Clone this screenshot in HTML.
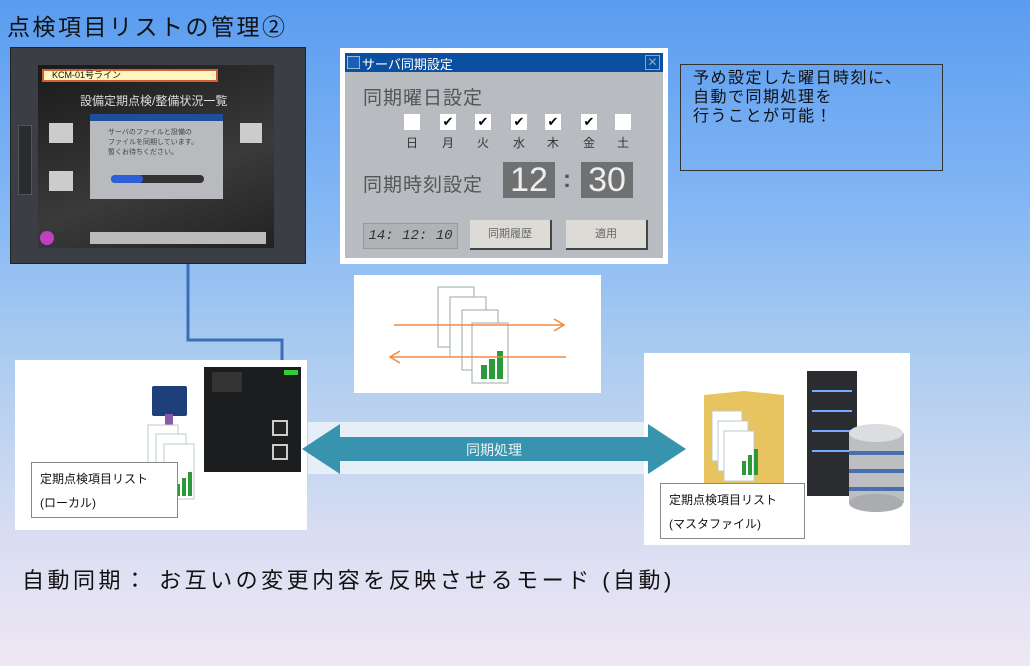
<!DOCTYPE html>
<html><head><meta charset="utf-8"><style>
*{margin:0;padding:0;box-sizing:border-box}
body{width:1030px;height:666px;overflow:hidden;position:relative;font-family:"Liberation Sans","Noto Sans CJK JP",sans-serif;
background:linear-gradient(180deg,#5a9cf0 0%,#82b6f4 30%,#aecdf0 55%,#d8ddf2 80%,#efe7f5 100%)}
.a{position:absolute}
.jp{font-family:"Liberation Sans","Noto Sans CJK JP",sans-serif}
.cb{position:absolute;top:114px;width:16px;height:16px;background:#fff;font-size:13px;line-height:16px;text-align:center}
.dl{position:absolute;top:134px;width:16px;text-align:center;font-size:12px;color:#333}
</style></head><body>
<div class="a jp" style="left:7px;top:8px;font-size:23px;letter-spacing:2.5px;color:#111">点検項目リストの管理②</div>

<!-- HMI -->
<div class="a" style="left:10px;top:47px;width:296px;height:217px;background:#3b3e45;border:1px solid #222"></div>
<div class="a" style="left:18px;top:125px;width:14px;height:70px;background:#2a2c30;border:1px solid #555"></div>
<div class="a" style="left:38px;top:65px;width:236px;height:183px;background:linear-gradient(160deg,#1a1a1a,#3a3a3a 60%,#222)"></div>
<div class="a jp" style="left:42px;top:69px;width:176px;height:13px;background:#fff6c0;border:2px solid #d06030;font-size:9px;line-height:9px;color:#111;padding-left:8px">KCM-01号ライン</div>
<div class="a jp" style="left:80px;top:92px;font-size:12px;color:#ddd">設備定期点検/整備状況一覧</div>
<div class="a" style="left:90px;top:114px;width:133px;height:85px;background:#b8babd;border-top:7px solid #1d4f9a"></div>
<div class="a jp" style="left:108px;top:128px;font-size:7px;line-height:10px;color:#444">サーバのファイルと設備の<br>ファイルを同期しています。<br>暫くお待ちください。</div>
<div class="a" style="left:111px;top:175px;width:93px;height:8px;background:#333;border-radius:4px"></div>
<div class="a" style="left:111px;top:175px;width:32px;height:8px;background:#2d5fd8;border-radius:4px"></div>
<div class="a" style="left:90px;top:232px;width:176px;height:12px;background:#bbb"></div>
<div class="a" style="left:40px;top:231px;width:14px;height:14px;border-radius:7px;background:#c040c0"></div>
<div class="a" style="left:49px;top:123px;width:24px;height:20px;background:#ccc"></div>
<div class="a" style="left:49px;top:171px;width:24px;height:20px;background:#ccc"></div>
<div class="a" style="left:240px;top:123px;width:22px;height:20px;background:#ccc"></div>

<svg class="a" style="left:0;top:0" width="1030" height="666">
<polyline points="188,264 188,340 282,340 282,430" fill="none" stroke="#3a6fb8" stroke-width="3"/>
</svg>

<!-- dialog -->
<div class="a" style="left:340px;top:48px;width:328px;height:216px;background:#fff"></div>
<div class="a" style="left:345px;top:53px;width:318px;height:205px;background:#b8bbbf"></div>
<div class="a" style="left:345px;top:53px;width:318px;height:19px;background:#0b4fa0"></div>
<div class="a" style="left:347px;top:56px;width:13px;height:13px;background:#1a5fb8;border:1px solid #9bc"></div>
<div class="a jp" style="left:362px;top:54px;font-size:13px;color:#fff">サーバ同期設定</div>
<div class="a" style="left:645px;top:55px;width:15px;height:15px;border:1px solid #8ab;color:#8ab;font-size:12px;line-height:13px;text-align:center">✕</div>
<div class="a jp" style="left:363px;top:83px;font-size:19px;letter-spacing:1px;color:#555">同期曜日設定</div>
<div class="a jp" style="left:363px;top:170px;font-size:19px;letter-spacing:1px;color:#555">同期時刻設定</div>
<div class="cb" style="left:404px"></div>
<div class="cb" style="left:440px">✔</div>
<div class="cb" style="left:475px">✔</div>
<div class="cb" style="left:511px">✔</div>
<div class="cb" style="left:545px">✔</div>
<div class="cb" style="left:581px">✔</div>
<div class="cb" style="left:615px"></div>
<div class="dl jp" style="left:404px">日</div>
<div class="dl jp" style="left:440px">月</div>
<div class="dl jp" style="left:475px">火</div>
<div class="dl jp" style="left:511px">水</div>
<div class="dl jp" style="left:545px">木</div>
<div class="dl jp" style="left:581px">金</div>
<div class="dl jp" style="left:615px">土</div>
<div class="a" style="left:503px;top:162px;width:52px;height:36px;background:#6e7072;color:#eee;font-size:34px;line-height:36px;text-align:center">12</div>
<div class="a" style="left:581px;top:162px;width:52px;height:36px;background:#6e7072;color:#eee;font-size:34px;line-height:36px;text-align:center">30</div>
<div class="a" style="left:563px;top:166px;font-size:24px;color:#555;font-weight:bold">:</div>
<div class="a" style="left:363px;top:223px;width:95px;height:26px;border:1px solid #999;background:#b0b3b6;font-style:italic;font-size:14px;line-height:24px;text-align:center;color:#333;font-family:'Liberation Mono',monospace">14: 12: 10</div>
<div class="a jp" style="left:470px;top:220px;width:82px;height:30px;background:#dddbd5;border-right:2px solid #444;border-bottom:2px solid #444;font-size:11px;line-height:28px;text-align:center;color:#666">同期履歴</div>
<div class="a jp" style="left:566px;top:220px;width:82px;height:30px;background:#dddbd5;border-right:2px solid #444;border-bottom:2px solid #444;font-size:11px;line-height:28px;text-align:center;color:#666">適用</div>

<div class="a jp" style="left:680px;top:64px;width:263px;height:107px;border:1px solid #333;padding:4px 12px;font-size:16px;letter-spacing:1.5px;line-height:19px;color:#111">予め設定した曜日時刻に、<br>自動で同期処理を<br>行うことが可能！</div>

<!-- middle box -->
<div class="a" style="left:354px;top:275px;width:247px;height:118px;background:#fff"></div>
<svg class="a" style="left:354px;top:275px" width="247" height="118">
<g fill="#fff" stroke="#9aa" stroke-width="1">
<rect x="84" y="12" width="36" height="60"/><rect x="96" y="22" width="36" height="60"/><rect x="108" y="35" width="36" height="60"/><rect x="118" y="48" width="36" height="60"/></g>
<g fill="#2a9a3a"><rect x="127" y="90" width="6" height="14"/><rect x="135" y="84" width="6" height="20"/><rect x="143" y="76" width="6" height="28"/></g>
<g stroke="#f08a40" stroke-width="1.5" fill="none"><line x1="40" y1="50" x2="210" y2="50"/><polyline points="200,44 210,50 200,56"/><line x1="36" y1="82" x2="212" y2="82"/><polyline points="46,76 36,82 46,88"/></g>
</svg>

<!-- left box -->
<div class="a" style="left:15px;top:360px;width:292px;height:170px;background:#fff"></div>
<div class="a" style="left:152px;top:386px;width:35px;height:30px;background:#1f3f7a;border-radius:2px"></div>
<div class="a" style="left:165px;top:414px;width:8px;height:24px;background:#8a5aa8"></div>
<svg class="a" style="left:140px;top:420px" width="60" height="82"><g fill="#fff" stroke="#bcc"><rect x="8" y="5" width="30" height="50"/><rect x="16" y="14" width="30" height="50"/><rect x="24" y="24" width="30" height="55"/></g><g fill="#2a9a3a"><rect x="36" y="64" width="4" height="12"/><rect x="42" y="58" width="4" height="18"/><rect x="48" y="52" width="4" height="24"/></g></svg>
<div class="a" style="left:204px;top:367px;width:97px;height:105px;background:#1c1d1f"></div>
<div class="a" style="left:212px;top:372px;width:30px;height:20px;background:#333"></div>
<div class="a" style="left:272px;top:420px;width:16px;height:16px;border:2px solid #ccc;background:#222"></div>
<div class="a" style="left:272px;top:444px;width:16px;height:16px;border:2px solid #ccc;background:#222"></div>
<div class="a" style="left:284px;top:370px;width:14px;height:5px;background:#3c3"></div>
<div class="a jp" style="left:31px;top:462px;width:147px;height:56px;background:#fff;border:1px solid #888;padding:4px 8px;font-size:12px;line-height:24px;color:#111">定期点検項目リスト<br>(ローカル)</div>

<!-- right box -->
<div class="a" style="left:644px;top:353px;width:266px;height:192px;background:#fff"></div>
<svg class="a" style="left:644px;top:353px" width="266" height="192">
<path d="M60,42 L100,38 L140,42 L140,130 L90,140 L60,130Z" fill="#e8c460"/>
<g fill="#fff" stroke="#bcc"><rect x="68" y="58" width="30" height="50"/><rect x="74" y="68" width="30" height="50"/><rect x="80" y="78" width="30" height="50"/></g>
<g fill="#2a9a3a"><rect x="98" y="108" width="4" height="14"/><rect x="104" y="102" width="4" height="20"/><rect x="110" y="96" width="4" height="26"/></g>
<rect x="163" y="18" width="50" height="125" fill="#2b2c30"/>
<g stroke="#7af" stroke-width="2"><line x1="168" y1="38" x2="208" y2="38"/><line x1="168" y1="58" x2="208" y2="58"/><line x1="168" y1="78" x2="208" y2="78"/><line x1="168" y1="98" x2="208" y2="98"/></g>
<rect x="205" y="80" width="55" height="70" fill="#bcbec2"/>
<ellipse cx="232" cy="80" rx="27" ry="9" fill="#dcdde0"/>
<ellipse cx="232" cy="150" rx="27" ry="9" fill="#aaacb0"/>
<g fill="#4a6fb0"><rect x="205" y="98" width="55" height="4"/><rect x="205" y="116" width="55" height="4"/><rect x="205" y="134" width="55" height="4"/></g>
</svg>
<div class="a jp" style="left:660px;top:483px;width:145px;height:56px;background:#fff;border:1px solid #888;padding:4px 8px;font-size:12px;line-height:24px;color:#111">定期点検項目リスト<br>(マスタファイル)</div>

<!-- band + arrow -->
<div class="a" style="left:308px;top:422px;width:336px;height:52px;background:#e6eef8"></div>
<svg class="a" style="left:298px;top:420px" width="392" height="58">
<polygon points="4,29 42,4 42,17 350,17 350,4 388,29 350,54 350,41 42,41 42,54" fill="#3893ae"/>
<text x="196" y="35" text-anchor="middle" font-family="Liberation Sans,Noto Sans CJK JP,sans-serif" font-size="14" fill="#e8f4f8">同期処理</text>
</svg>

<div class="a jp" style="left:22px;top:563px;font-size:22px;letter-spacing:3.5px;color:#111;white-space:nowrap">自動同期： お互いの変更内容を反映させるモード (自動)</div>
</body></html>
